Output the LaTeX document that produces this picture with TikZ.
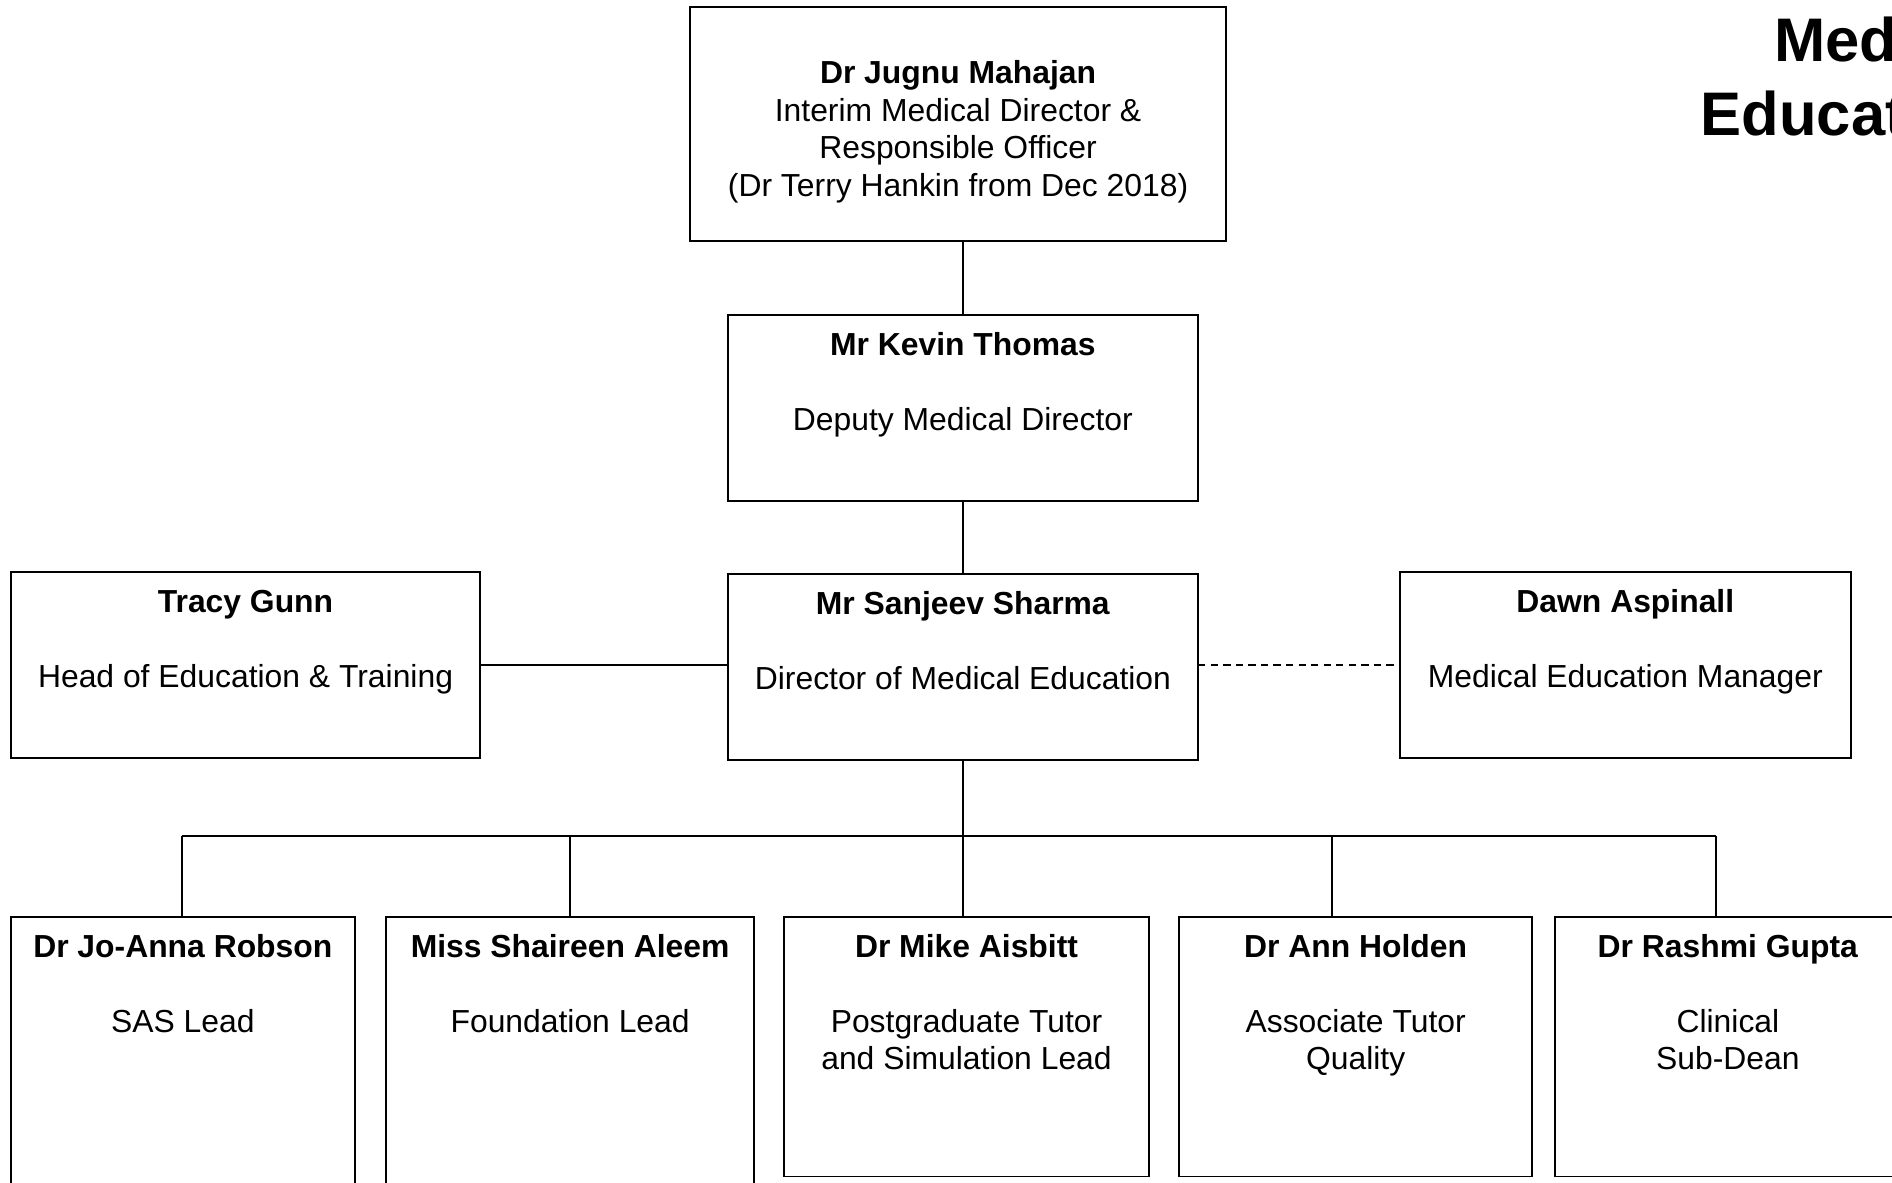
\documentclass[tikz,border=0pt]{standalone}
\usepackage{fontspec}
\setmainfont{Liberation Sans}
\tikzset{
  obox/.style={draw, line width=0.8pt, inner sep=0pt, outer sep=0pt, rectangle, anchor=north west,
    font=\fontsize{13.2}{15.5}\selectfont},
  conn/.style={line width=0.8pt},
  dconn/.style={line width=0.8pt, dash pattern=on 3pt off 2.2pt},
  ttl/.style={font=\bfseries\fontsize{25.5}{30}\selectfont, inner sep=0pt, anchor=base west}
}
% name, x1, y1, x2, y2, top pad, content
\newcommand\orgbox[7]{%
  \node[obox] (#1) at (#2,-#3) {\parbox[c][\dimexpr(#5pt-#3pt)/2\relax][t]{\dimexpr(#4pt-#2pt)/2\relax}{\centering\vspace*{#6}\strut #7\par}};%
}
\begin{document}
\begin{tikzpicture}[x=0.5pt,y=0.5pt]
\useasboundingbox (0,0) rectangle (1568,-980);
\clip (0,0) rectangle (1568,-980);
\fill[white] (0,0) rectangle (1568,-980);

% title (clipped at right edge, as in the reference)
\node[ttl] (t1) at (1470,-51) {Medical};
\node[ttl] (t2) at (1409,-112) {Education};

\orgbox{md}{572}{6}{1016}{200}{20.9pt}{\textbf{Dr Jugnu Mahajan}\\Interim Medical Director \&\\Responsible Officer\\(Dr Terry Hankin from Dec 2018)}
\orgbox{dmd}{603}{261}{993}{415}{5.9pt}{\textbf{Mr Kevin Thomas}\\[15.5pt]Deputy Medical Director}
\orgbox{dme}{603}{476}{993}{630}{5.9pt}{\textbf{Mr Sanjeev Sharma}\\[15.5pt]Director of Medical Education}
\orgbox{het}{9}{474}{398}{628}{5.9pt}{\textbf{Tracy Gunn}\\[15.5pt]Head of Education \& Training}
\orgbox{mem}{1160}{474}{1534}{628}{5.9pt}{\textbf{Dawn Aspinall}\\[15.5pt]Medical Education Manager}

\orgbox{b1}{9}{760}{294}{1010}{5.9pt}{\textbf{Dr Jo-Anna Robson}\\[15.5pt]SAS Lead}
\orgbox{b2}{320}{760}{625}{1010}{5.9pt}{\textbf{Miss Shaireen Aleem}\\[15.5pt]Foundation Lead}
\orgbox{b3}{650}{760}{952}{975}{5.9pt}{\textbf{Dr Mike Aisbitt}\\[15.5pt]Postgraduate Tutor\\and Simulation Lead}
\orgbox{b4}{977}{760}{1270}{975}{5.9pt}{\textbf{Dr Ann Holden}\\[15.5pt]Associate Tutor\\Quality}
\orgbox{b5}{1289}{760}{1575}{975}{5.9pt}{\textbf{Dr Rashmi Gupta}\\[15.5pt]Clinical\\Sub-Dean}

% connectors
\draw[conn] (dmd.north) -- (dmd.north |- md.south);
\draw[conn] (dmd.south) -- (dme.north);
\draw[conn] (het.east) -- (dme.west |- het.east);
\draw[dconn] (dme.east |- mem.west) -- (mem.west);

\coordinate (j1) at (151,-693);
\coordinate (j2) at (472,-693);
\coordinate (j3) at (798,-693);
\coordinate (j4) at (1104,-693);
\coordinate (j5) at (1422,-693);
\draw[conn] (dme.south) -- (j3);
\draw[conn] (j1) -- (j5);
\draw[conn] (j1) -- (j1 |- b1.north);
\draw[conn] (j2) -- (j2 |- b2.north);
\draw[conn] (j3) -- (j3 |- b3.north);
\draw[conn] (j4) -- (j4 |- b4.north);
\draw[conn] (j5) -- (j5 |- b5.north);
\end{tikzpicture}
\end{document}
